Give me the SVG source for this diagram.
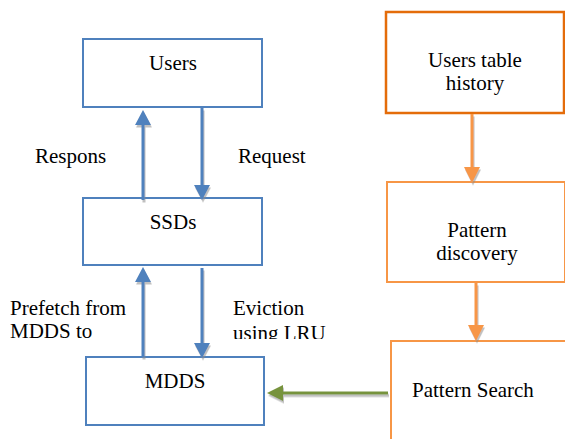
<svg xmlns="http://www.w3.org/2000/svg" width="565" height="439" viewBox="0 0 565 439">
<style>
text{font-family:"Times New Roman","Liberation Serif",Times,serif;font-size:21px;fill:#000}
.c{text-anchor:middle}
.bb{fill:#fff;stroke:#4F81BD;stroke-width:2}
.ob{fill:#fff;stroke:#F79646;stroke-width:2}
.od{fill:#fff;stroke:#E46C0A;stroke-width:2.5}
.bl{stroke:#4F81BD;stroke-width:3;fill:none}
.bh{fill:#4F81BD}
.ol{stroke:#F79646;stroke-width:3;fill:none}
.oh{fill:#F79646}
.gl{stroke:#77933C;stroke-width:3;fill:none}
.gh{fill:#77933C}
</style>
<defs>
<filter id="sh" x="-50%" y="-50%" width="200%" height="200%">
<feDropShadow dx="1" dy="2.5" stdDeviation="0.6" flood-color="#8c8c8c" flood-opacity="0.55"/>
</filter>
<clipPath id="cl"><rect x="0" y="290" width="330" height="49"/></clipPath>
</defs>
<g id="users"><rect class="bb" x="83" y="39" width="179" height="68"/><text class="c" x="173" y="70">Users</text></g>
<g id="ssds"><rect class="bb" x="83" y="198" width="179" height="67"/><text class="c" x="173" y="229">SSDs</text></g>
<g id="mdds"><rect class="bb" x="86" y="357" width="178" height="68"/><text class="c" x="175" y="388">MDDS</text></g>
<g id="users-table-history"><rect class="od" x="386" y="12" width="178" height="101"/><text class="c" x="475" y="67">Users table</text><text class="c" x="475" y="90">history</text></g>
<g id="pattern-discovery"><rect class="ob" x="387" y="182" width="178" height="100"/><text class="c" x="477" y="237">Pattern</text><text class="c" x="477" y="260">discovery</text></g>
<g id="pattern-search"><rect class="ob" x="391" y="341" width="180" height="110"/><text x="412" y="397">Pattern Search</text></g>
<g id="connectors" filter="url(#sh)">
<path class="bl" d="M143 200V122"/><polygon class="bh" points="143,110 135,125 151,125"/>
<path class="bl" d="M202 108V186"/><polygon class="bh" points="202,200 194,185 210,185"/>
<path class="bl" d="M143 357V279"/><polygon class="bh" points="143,267 135,282 151,282"/>
<path class="bl" d="M202 268V344"/><polygon class="bh" points="202,358 194,343 210,343"/>
<path class="ol" d="M472 114V169"/><polygon class="oh" points="472,183 464,167 480,167"/>
<path class="ol" d="M476 283V327"/><polygon class="oh" points="476,341 468,325 484,325"/>
<path class="gl" d="M388 393H280"/><polygon class="gh" points="267,393 283,385 283,401"/>
</g>
<g id="labels">
<text x="35" y="163">Respons</text>
<text x="238" y="163">Request</text>
<g clip-path="url(#cl)">
<text x="10" y="315">Prefetch from</text>
<text x="10" y="338">MDDS to</text>
<text x="233" y="315">Eviction</text>
<text x="233" y="340">using LRU</text>
</g>
</g>
</svg>
